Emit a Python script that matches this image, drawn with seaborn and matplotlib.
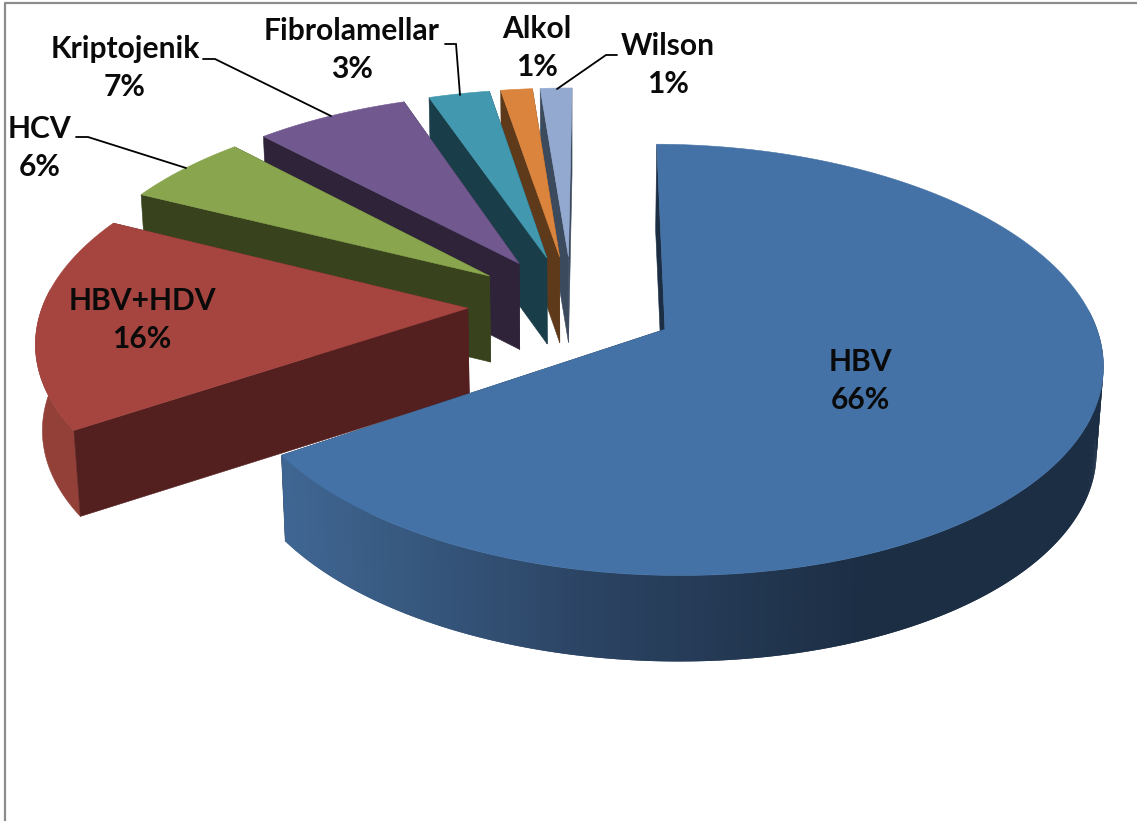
import numpy as np
import matplotlib
matplotlib.use("Agg")
import matplotlib.pyplot as plt
from matplotlib.patches import Polygon
import seaborn as sns

categories = ["HBV", "HBV+HDV", "HCV", "Kriptojenik", "Fibrolamellar", "Alkol", "Wilson"]
values = [65.6, 16.5, 5.6, 6.8, 2.7, 1.4, 1.4]
top_colors = ["#4472A6", "#A64540", "#89A54E", "#71588F", "#4198AF", "#DB843D", "#93A9CF"]
wall_colors = ["#1C2E44", "#53201F", "#38431D", "#2E2339", "#1A3E49", "#5F3A1A", "#3C4A5E"]
rim_colors = ["#1C2E44", "#934039", "#6E853E", "#5A4672", "#347A8C", "#B06A30", "#7587A6"]
label_xy = [(860, 381), (142, 320), (40, 148), (125, 68), (352, 50), (537, 48), (668, 65)]
leaders = {
    "HCV": [(76, 137), (88, 137), (186, 168)],
    "Kriptojenik": [(203, 59), (215, 59), (331, 116)],
    "Fibrolamellar": [(445, 44), (456, 44), (460, 95)],
    "Wilson": [(617, 55), (606, 55), (557, 89)],
}

W, H = 1137, 821
CX, CY, A, S, P = 572.0, 305.0, 425.0, 204.5, 0.139
EXPLODE, DEPTH, TAPER = 0.245, 86.0, 0.013
START = 0.5

sns.set_theme(style="white")
plt.rcParams["font.family"] = ["Lato", "DejaVu Sans"]
fig = plt.figure(figsize=(W / 100, H / 100), dpi=100)
ax = fig.add_axes([0, 0, 1, 1])
ax.set_xlim(0, W)
ax.set_ylim(H, 0)
ax.axis("off")


def project(u, v, bottom=False):
    k = 1 / (1 + P * v)
    x = CX + A * u * k
    y = CY - S * v * k
    if bottom:
        x = CX + (x - CX) * (1 - TAPER)
        y = y + DEPTH
    return np.column_stack([x, y])


def poly(pts, color, z, lw=0.4):
    ax.add_patch(Polygon(pts, closed=True, facecolor=color, edgecolor=color, linewidth=lw, zorder=z))


total = sum(values)
angles = START + np.cumsum([0] + values) * 360.0 / total
gradient = sns.blend_palette(["#3F6692", "#2C4565", "#1C2E44"], 128)
order = [6, 5, 4, 3, 2, 1, 0]
for z, i in enumerate(order):
    a0, a1 = angles[i], angles[i + 1]
    mid = np.radians((a0 + a1) / 2)
    u0, v0 = EXPLODE * np.sin(mid), EXPLODE * np.cos(mid)
    th = np.radians(np.linspace(a0, a1, max(12, int((a1 - a0) * 2))))
    us, vs = u0 + np.sin(th), v0 + np.cos(th)
    ap_top = project(np.array([u0]), np.array([v0]))
    ap_bot = project(np.array([u0]), np.array([v0]), True)
    top = project(us, vs)
    bot = project(us, vs, True)
    base = z * 10
    # hidden end wall, then the front-facing part of the rim, then start wall
    poly(np.vstack([ap_top, top[-1], bot[-1], ap_bot]), wall_colors[i], base)
    front = np.where(np.cos(th) < 0.1)[0]
    if front.size > 1:
        if i == 0:
            for j in front[:-1]:
                j2 = min(j + 2, front[-1])
                xm = (top[j, 0] + top[j + 1, 0]) / 2
                c = gradient[int(np.clip((xm - 285) / (860 - 285), 0, 1) * 127)]
                poly(np.vstack([top[j], top[j2], bot[j2], bot[j]]), c, base + 1 + j * 0.001, lw=0)
        else:
            poly(np.vstack([top[front], bot[front][::-1]]), rim_colors[i], base + 1)
    poly(np.vstack([ap_top, top[0], bot[0], ap_bot]), wall_colors[i], base + 3)
    poly(np.vstack([ap_top, top]), top_colors[i], base + 4)

for name, (x, y), val in zip(categories, label_xy, values):
    ax.text(x, y, f"{name}\n{val:.0f}%", ha="center", va="center", fontsize=21.6,
            fontweight="bold", color="#0a0a0a", linespacing=1.45, zorder=200)

for pts in leaders.values():
    xs, ys = zip(*pts)
    ax.plot(xs, ys, color="black", lw=1.3, zorder=150, solid_joinstyle="miter")

ax.plot([4.5, 4.5, W], [H, 3.5, 3.5], color="#8c8c8c", lw=1.6, zorder=150)

fig.savefig("out.png", dpi=100, facecolor="white")
